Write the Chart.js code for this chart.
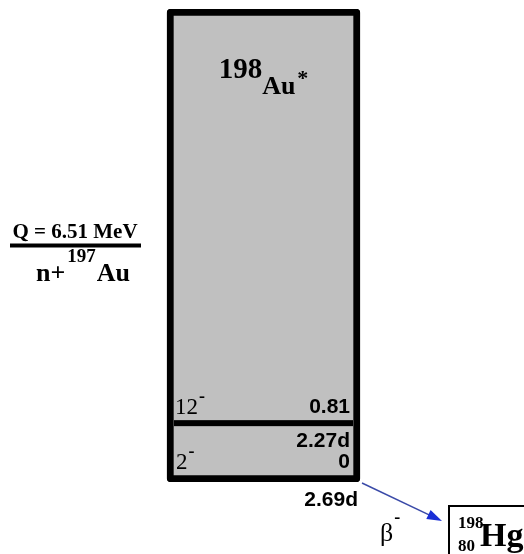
<!DOCTYPE html>
<html>
<head>
<meta charset="utf-8">
<script src="https://cdn.jsdelivr.net/npm/chart.js@4/dist/chart.umd.min.js"></script>
<style>
  body { margin: 0; background: #fff; }
  canvas { display: block; }
</style>
</head>
<body>
<canvas id="levelChart" width="524" height="554"></canvas>
<script>
// Level scheme data (energies in MeV)
const levelEnergies = [0, 0.81];
const levelSpins = ['2', '12'];
const levelParities = ['-', '-'];
const levelHalfLives = ['2.69d', '2.27d'];
const qValue = 6.51;
const compoundNucleus = ['198', 'Au', '*'];
const entranceChannel = ['n+', '197', 'Au'];
const daughterNucleus = ['198', '80', 'Hg'];
const decayMode = ['β', '-'];

const SERIF = '"Liberation Serif", "Times New Roman", serif';
const SANS = '"Liberation Sans", Arial, sans-serif';

function txt(ctx, s, x, y, font, align) {
    ctx.font = font;
    ctx.textAlign = align || 'left';
    ctx.textBaseline = 'alphabetic';
    ctx.fillText(s, x, y);
    return ctx.measureText(s).width;
}

// draws labels, level lines and the decay arrow on top of the box
const schemePlugin = {
    id: 'scheme',
    afterDatasetsDraw(chart) {
        const ctx = chart.ctx;
        const yScale = chart.scales.y;
        const bar = chart.getDatasetMeta(0).data[0];
        const bw = 7;
        const left = bar.x - bar.width / 2, right = bar.x + bar.width / 2;
        const top = bar.y, bottom = bar.base;
        const inL = left + bw, inR = right - bw;

        ctx.save();
        ctx.fillStyle = '#000';

        // compound nucleus label
        ctx.font = 'bold 29px ' + SERIF;
        const w1 = ctx.measureText(compoundNucleus[0]).width;
        ctx.font = 'bold 26px ' + SERIF;
        const w2 = ctx.measureText(compoundNucleus[1]).width;
        ctx.font = 'bold 22px ' + SERIF;
        const w3 = ctx.measureText(compoundNucleus[2]).width;
        let cx = bar.x - (w1 + w2 + w3 + 2) / 2;
        cx += txt(ctx, compoundNucleus[0], cx, top + 69, 'bold 29px ' + SERIF);
        cx += txt(ctx, compoundNucleus[1], cx, top + 85, 'bold 26px ' + SERIF) + 2;
        txt(ctx, compoundNucleus[2], cx, top + 76, 'bold 22px ' + SERIF);

        // levels
        levelEnergies.forEach((e, i) => {
            const y = yScale.getPixelForValue(e);
            let lineTop, lineBot;
            if (i === 0) {
                lineTop = y - bw; lineBot = y;
            } else {
                ctx.fillRect(inL, y - 3, inR - inL, 6);
                lineTop = y - 3; lineBot = y + 3;
            }
            txt(ctx, String(e), inR - 3, lineTop - 7, 'bold 21px ' + SANS, 'right');
            const sx = inL + 1 + (levelSpins[i].length === 1 ? 1 : 0);
            const sw = txt(ctx, levelSpins[i], sx, lineTop - 6, '23px ' + SERIF);
            txt(ctx, levelParities[i], sx + sw + 1, lineTop - 18, 'bold 18px ' + SERIF);
            if (i === 0) {
                txt(ctx, levelHalfLives[i], right - 2, bottom + 24, 'bold 21px ' + SANS, 'right');
            } else {
                txt(ctx, levelHalfLives[i], inR - 3, lineBot + 21, 'bold 21px ' + SANS, 'right');
            }
        });

        // Q value / entrance channel, at mid height of the box
        const midY = (top + bottom) / 2;
        ctx.fillRect(10, midY - 2, 131, 4);
        txt(ctx, 'Q = ' + qValue.toFixed(2) + ' MeV', 75, midY - 8, 'bold 21px ' + SERIF, 'center');
        let ex = 36;
        ex += txt(ctx, entranceChannel[0], ex, midY + 35, 'bold 26px ' + SERIF) + 2;
        ex += txt(ctx, entranceChannel[1], ex, midY + 16, 'bold 19px ' + SERIF);
        txt(ctx, entranceChannel[2], ex + 1, midY + 35, 'bold 26px ' + SERIF);

        // decay arrow
        const x0 = right + 2, y0 = bottom + 1, x1 = 442, y1 = 521;
        const ang = Math.atan2(y1 - y0, x1 - x0);
        ctx.strokeStyle = '#3a4aa8';
        ctx.lineWidth = 1.5;
        ctx.beginPath();
        ctx.moveTo(x0, y0);
        ctx.lineTo(x1 - 12 * Math.cos(ang), y1 - 12 * Math.sin(ang));
        ctx.stroke();
        ctx.fillStyle = '#1a2fd6';
        ctx.beginPath();
        ctx.moveTo(x1, y1);
        ctx.lineTo(x1 - 15 * Math.cos(ang) + 5 * Math.sin(ang), y1 - 15 * Math.sin(ang) - 5 * Math.cos(ang));
        ctx.lineTo(x1 - 15 * Math.cos(ang) - 5 * Math.sin(ang), y1 - 15 * Math.sin(ang) + 5 * Math.cos(ang));
        ctx.closePath();
        ctx.fill();

        // decay mode
        ctx.fillStyle = '#000';
        const bwid = txt(ctx, decayMode[0], 380, 541, '26px ' + SERIF);
        txt(ctx, decayMode[1], 380 + bwid + 1, 523, 'bold 18px ' + SERIF);

        // daughter nucleus box
        ctx.strokeStyle = '#000';
        ctx.lineWidth = 2;
        ctx.strokeRect(449, 506, 100, 60);
        txt(ctx, daughterNucleus[0], 458, 528, 'bold 17px ' + SERIF);
        txt(ctx, daughterNucleus[1], 458, 551, 'bold 17px ' + SERIF);
        txt(ctx, daughterNucleus[2], 480, 546, 'bold 34px ' + SERIF);

        ctx.restore();
    }
};

const ctx = document.getElementById('levelChart').getContext('2d');
const levelChart = new Chart(ctx, {
    type: 'bar',
    data: {
        labels: [compoundNucleus.join('')],
        datasets: [{
            data: [[levelEnergies[0], qValue]],
            backgroundColor: '#c0c0c0',
            borderColor: '#000',
            borderWidth: 7,
            borderSkipped: false,
            borderRadius: 4,
            barThickness: 193
        }]
    },
    options: {
        responsive: false,
        animation: false,
        layout: { padding: { top: 9, bottom: 72, left: 3, right: 0 } },
        scales: {
            x: { display: false },
            y: { display: false, min: 0, max: qValue }
        },
        plugins: {
            legend: { display: false },
            tooltip: { enabled: false }
        }
    },
    plugins: [schemePlugin]
});
</script>
</body>
</html>
